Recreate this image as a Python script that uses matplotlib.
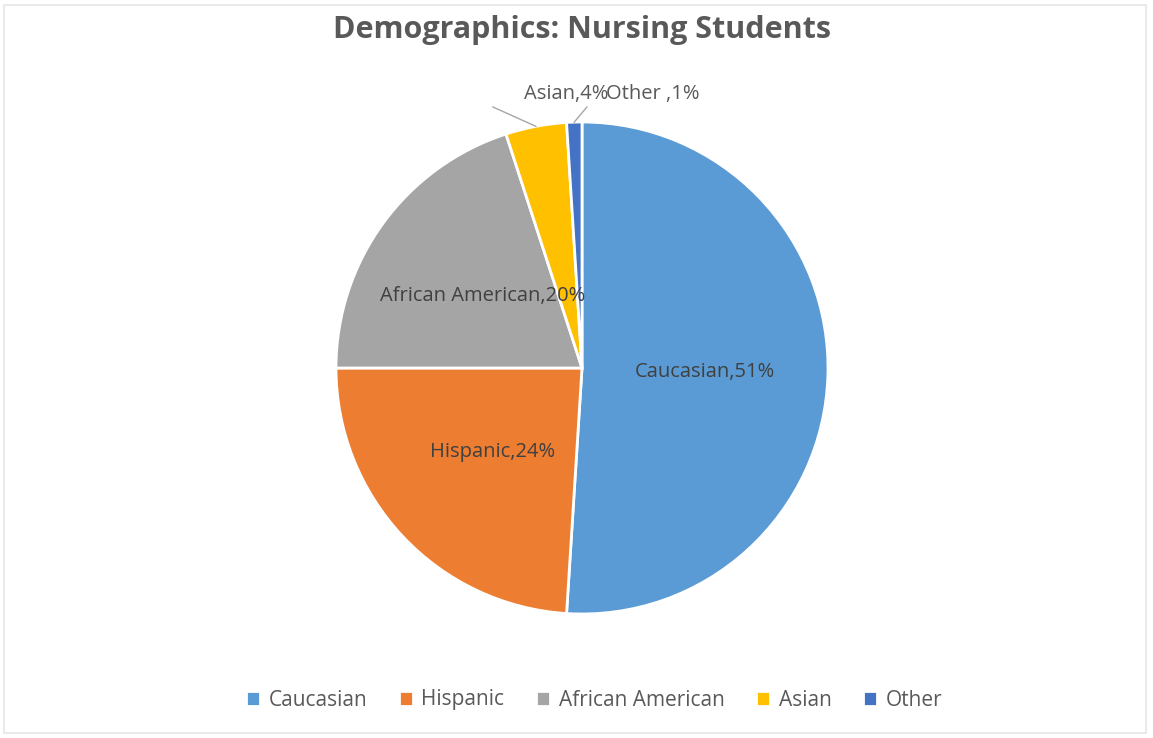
import matplotlib
matplotlib.use("Agg")
import matplotlib.pyplot as plt
import numpy as np
from matplotlib.patches import Rectangle

categories = ["Caucasian", "Hispanic", "African American", "Asian", "Other"]
values = [51, 24, 20, 4, 1]
label_names = ["Caucasian", "Hispanic", "African American", "Asian", "Other "]
colors = ["#5B9BD5", "#ED7D31", "#A5A5A5", "#FFC000", "#4472C4"]
title = "Demographics: Nursing Students"

plt.rcParams['font.family'] = ['Open Sans', 'DejaVu Sans']

W, H = 1153, 738
fig = plt.figure(figsize=(W / 100, H / 100), dpi=100)
fig.patch.set_facecolor("white")

# faint outer border
fig.add_artist(Rectangle((4 / W, 5 / H), 1142 / W, 728 / H, transform=fig.transFigure,
                         fill=False, edgecolor="#E6E6E6", linewidth=1.2))

cx, cy, r = 582, 368, 246
ax = fig.add_axes([(cx - r) / W, 1 - (cy + r) / H, 2 * r / W, 2 * r / H])
wedges, _ = ax.pie(values, colors=colors, startangle=90, counterclock=False,
                   wedgeprops=dict(edgecolor="white", linewidth=2), radius=1)
ax.set_xlim(-1, 1)
ax.set_ylim(-1, 1)
ax.set_aspect("auto")
ax.axis("off")

fs = 14.5
total = sum(values)
cum = 0
mids = []
for i, (name, v) in enumerate(zip(label_names, values)):
    mid = 90 - (cum + v / 2) / total * 360
    mids.append(np.radians(mid))
    cum += v
    txt = f"{name},{v}%"
    if v >= 10:
        x = 0.5 * np.cos(np.radians(mid))
        y = 0.5 * np.sin(np.radians(mid))
        ax.text(x, y, txt, ha="center", va="center", fontsize=fs, color="#404040")

# small-slice labels with leader lines
a_ang, o_ang = mids[3], mids[4]
ax.plot([np.cos(a_ang), -0.362], [np.sin(a_ang), 1.061], color="#A6A6A6", lw=1, clip_on=False)
ax.plot([np.cos(o_ang), 0.020], [np.sin(o_ang), 1.061], color="#A6A6A6", lw=1, clip_on=False)
ax.text(-0.065, 1.115, f"{label_names[3]},{values[3]}%", ha="center", va="center",
        fontsize=fs, color="#595959", clip_on=False)
ax.text(0.288, 1.115, f"{label_names[4]},{values[4]}%", ha="center", va="center",
        fontsize=fs, color="#595959", clip_on=False)

fig.text(582 / W, 1 - 30 / H, title, ha="center", va="center", fontsize=22,
         fontweight="bold", color="#595959")

leg = fig.legend(wedges, categories, loc="center", bbox_to_anchor=(594 / W, 1 - 700 / H),
                 ncol=5, frameon=False, fontsize=15, handlelength=0.7, handleheight=0.7,
                 handletextpad=0.4, columnspacing=1.5, labelcolor="#595959")

fig.savefig("out.png", dpi=100, facecolor="white")
